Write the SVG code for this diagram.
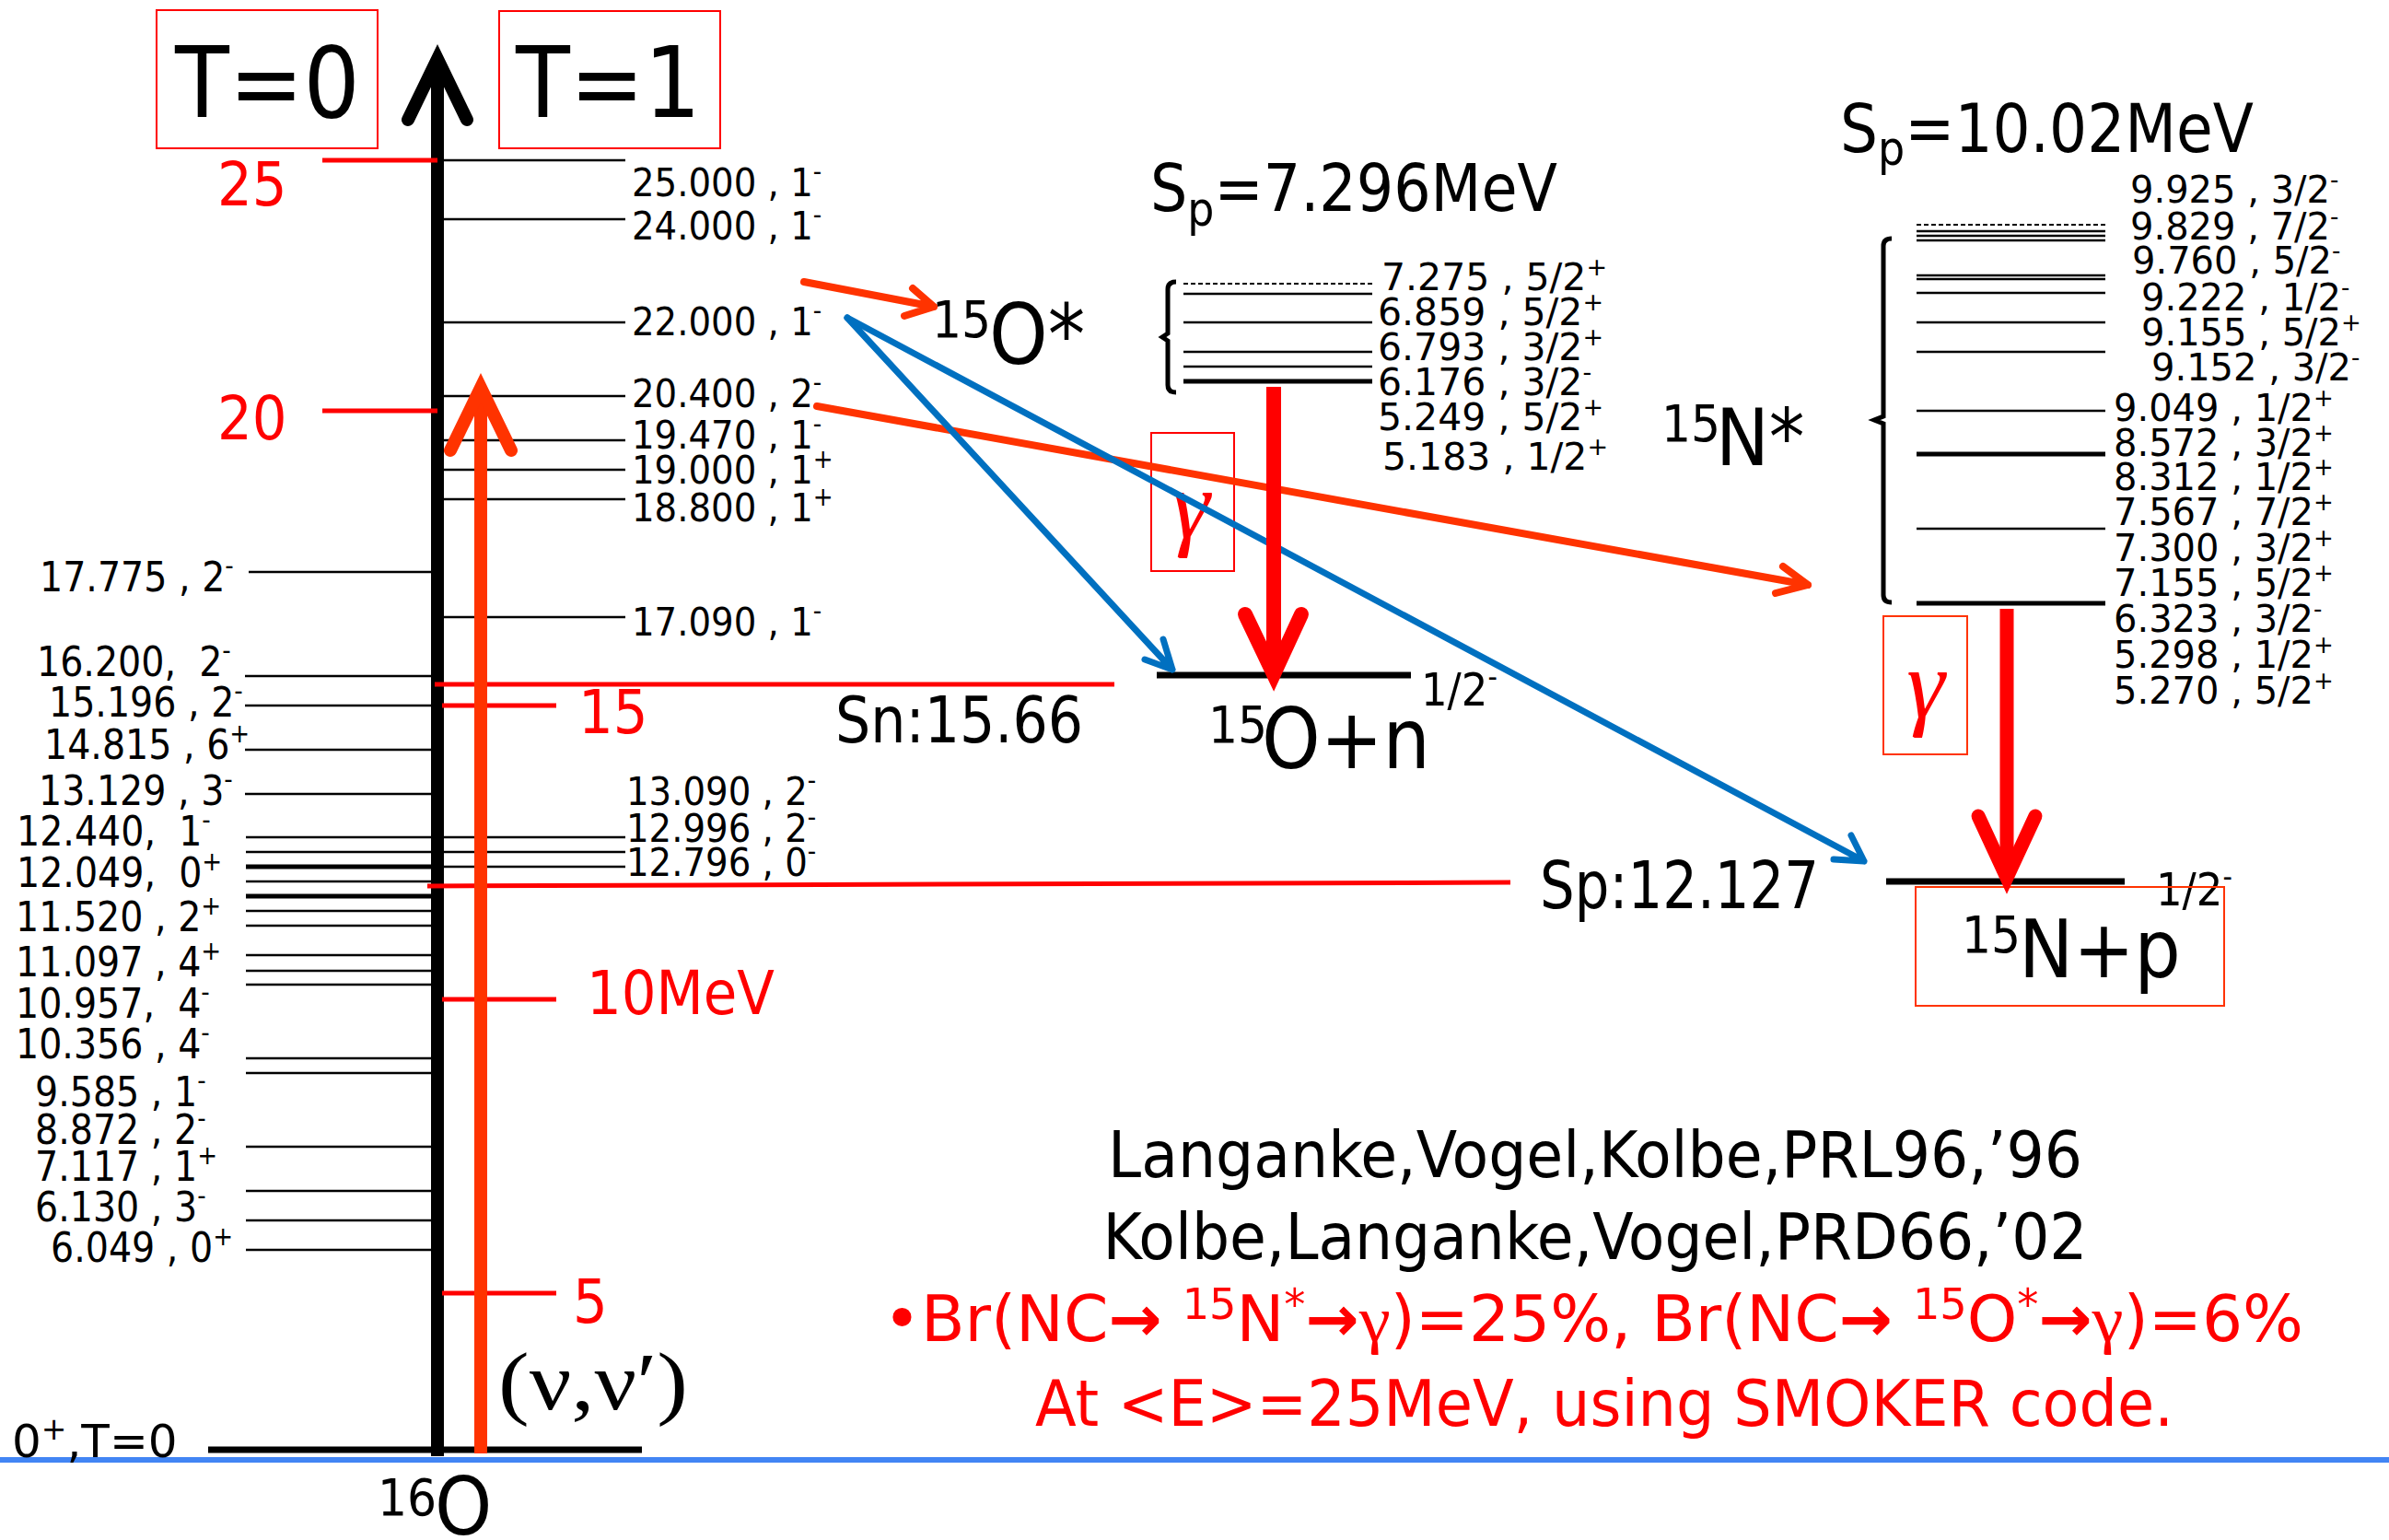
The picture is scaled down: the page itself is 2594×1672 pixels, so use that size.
<svg xmlns="http://www.w3.org/2000/svg" width="2594" height="1672" viewBox="0 0 2594 1672">
<style>
text{font-family:"DejaVu Sans Condensed","DejaVu Sans",sans-serif;font-stretch:condensed;white-space:pre;fill:#000}
.lv{font-size:44px}
.lr{font-size:43px}
.o{font-size:41px;font-family:"DejaVu Sans",sans-serif;font-stretch:normal}
.n{font-size:40px;font-family:"DejaVu Sans",sans-serif;font-stretch:normal}
.red{fill:#FF0000}
.big{font-size:66px}
.lvl{stroke:#000;stroke-width:2.5;fill:none}
.thk{stroke:#000;stroke-width:5;fill:none}
.gnd{stroke:#000;stroke-width:7;fill:none}
.tick{stroke:#FF0000;stroke-width:5;fill:none}
.box{fill:none;stroke:#FF0000;stroke-width:2}
.box2{fill:none;stroke:#FF3300;stroke-width:2}
.serif{font-family:"Liberation Serif","DejaVu Serif",serif;font-stretch:normal}
.blue{stroke:#0070C0;stroke-width:7;fill:none;stroke-linecap:round;stroke-linejoin:round}
.orng{stroke:#FF3300;stroke-width:8;fill:none;stroke-linecap:round;stroke-linejoin:round}
</style>
<rect x="0" y="0" width="2594" height="1672" fill="#fff"/>

<g id="headers">
  <rect class="box" x="170" y="11" width="240" height="150"/>
  <text x="190" y="127" font-size="107">T=0</text>
  <rect class="box" x="542" y="12" width="240" height="149"/>
  <text x="560" y="127" font-size="107">T=1</text>
</g>

<g id="axis">
  <path d="M475,1581 V66" stroke="#000" stroke-width="14" fill="none"/>
  <path d="M443,130 L475,64 L507,130" stroke="#000" stroke-width="14" fill="none" stroke-linecap="round" stroke-linejoin="miter"/>
  <line class="gnd" x1="226" y1="1574" x2="697" y2="1574"/>
  <line x1="0" y1="1585" x2="2594" y2="1585" stroke="#4285F4" stroke-width="6"/>
  <text x="13" y="1582" font-size="50" style="font-family:'DejaVu Sans',sans-serif;font-stretch:normal">0<tspan font-size="33" dy="-19">+</tspan><tspan dy="19">,T=0</tspan></text>
  <text x="410" y="1645" font-size="56">16</text>
  <text x="472" y="1666" font-size="88">O</text>
</g>

<g id="scale">
  <line class="tick" x1="350" y1="174" x2="475" y2="174"/>
  <text class="big red" x="236" y="223">25</text>
  <line class="tick" x1="350" y1="446" x2="475" y2="446"/>
  <text class="big red" x="236" y="477">20</text>
  <line class="tick" x1="480" y1="766" x2="604" y2="766"/>
  <text class="big red" x="628" y="796">15</text>
  <line class="tick" x1="480" y1="1085" x2="604" y2="1085"/>
  <text class="big red" x="637" y="1101">10MeV</text>
  <line class="tick" x1="480" y1="1404" x2="604" y2="1404"/>
  <text class="big red" x="622" y="1436">5</text>
  <line class="tick" x1="472" y1="743" x2="1210" y2="743"/>
  <line class="tick" x1="464" y1="962" x2="1640" y2="958"/>
</g>

<g id="t1-levels">
  <line class="lvl" x1="482" y1="174" x2="679" y2="174"/>
  <line class="lvl" x1="482" y1="238" x2="679" y2="238"/>
  <line class="lvl" x1="482" y1="350" x2="679" y2="350"/>
  <line class="lvl" x1="482" y1="430" x2="679" y2="430"/>
  <line class="lvl" x1="482" y1="478" x2="679" y2="478"/>
  <line class="lvl" x1="482" y1="510" x2="679" y2="510"/>
  <line class="lvl" x1="482" y1="542" x2="679" y2="542"/>
  <line class="lvl" x1="482" y1="670" x2="679" y2="670"/>
  <line class="lvl" x1="482" y1="909" x2="679" y2="909"/>
  <line class="lvl" x1="482" y1="925" x2="679" y2="925"/>
  <line class="lvl" x1="482" y1="941" x2="679" y2="941"/>
  <text class="lr" x="686" y="213">25.000 , 1<tspan font-size="29" dy="-17">-</tspan></text>
  <text class="lr" x="686" y="260">24.000 , 1<tspan font-size="29" dy="-17">-</tspan></text>
  <text class="lr" x="686" y="364">22.000 , 1<tspan font-size="29" dy="-17">-</tspan></text>
  <text class="lr" x="686" y="442">20.400 , 2<tspan font-size="29" dy="-17">-</tspan></text>
  <text class="lr" x="686" y="487">19.470 , 1<tspan font-size="29" dy="-17">-</tspan></text>
  <text class="lr" x="686" y="525">19.000 , 1<tspan font-size="29" dy="-17">+</tspan></text>
  <text class="lr" x="686" y="566">18.800 , 1<tspan font-size="29" dy="-17">+</tspan></text>
  <text class="lr" x="686" y="690">17.090 , 1<tspan font-size="29" dy="-17">-</tspan></text>
  <text class="lr" x="680" y="874">13.090 , 2<tspan font-size="29" dy="-17">-</tspan></text>
  <text class="lr" x="680" y="914">12.996 , 2<tspan font-size="29" dy="-17">-</tspan></text>
  <text class="lr" x="680" y="951">12.796 , 0<tspan font-size="29" dy="-17">-</tspan></text>
</g>

<g id="t0-levels">
  <line class="lvl" x1="270" y1="621" x2="468" y2="621"/>
  <line class="lvl" x1="266" y1="734" x2="468" y2="734"/>
  <line class="lvl" x1="266" y1="766" x2="468" y2="766"/>
  <line class="lvl" x1="266" y1="814" x2="468" y2="814"/>
  <line class="lvl" x1="266" y1="862" x2="468" y2="862"/>
  <line class="lvl" x1="267" y1="909" x2="468" y2="909"/>
  <line class="lvl" x1="267" y1="925" x2="468" y2="925"/>
  <line class="thk" x1="267" y1="941" x2="468" y2="941"/>
  <line class="lvl" x1="267" y1="957" x2="468" y2="957"/>
  <line class="thk" x1="267" y1="973" x2="468" y2="973"/>
  <line class="lvl" x1="267" y1="989" x2="468" y2="989"/>
  <line class="lvl" x1="267" y1="1005" x2="468" y2="1005"/>
  <line class="lvl" x1="267" y1="1037" x2="468" y2="1037"/>
  <line class="lvl" x1="267" y1="1054" x2="468" y2="1054"/>
  <line class="lvl" x1="267" y1="1069" x2="468" y2="1069"/>
  <line class="lvl" x1="267" y1="1149" x2="468" y2="1149"/>
  <line class="lvl" x1="267" y1="1165" x2="468" y2="1165"/>
  <line class="lvl" x1="267" y1="1245" x2="468" y2="1245"/>
  <line class="lvl" x1="267" y1="1293" x2="468" y2="1293"/>
  <line class="lvl" x1="267" y1="1325" x2="468" y2="1325"/>
  <line class="lvl" x1="267" y1="1357" x2="468" y2="1357"/>
  <text class="lv" x="43" y="642">17.775 , 2<tspan font-size="29" dy="-18">-</tspan></text>
  <text class="lv" x="40" y="734">16.200,  2<tspan font-size="29" dy="-18">-</tspan></text>
  <text class="lv" x="53" y="778">15.196 , 2<tspan font-size="29" dy="-18">-</tspan></text>
  <text class="lv" x="48" y="824">14.815 , 6<tspan font-size="29" dy="-18">+</tspan></text>
  <text class="lv" x="42" y="874">13.129 , 3<tspan font-size="29" dy="-18">-</tspan></text>
  <text class="lv" x="18" y="918">12.440,  1<tspan font-size="29" dy="-18">-</tspan></text>
  <text class="lv" x="18" y="963">12.049,  0<tspan font-size="29" dy="-18">+</tspan></text>
  <text class="lv" x="17" y="1011">11.520 , 2<tspan font-size="29" dy="-18">+</tspan></text>
  <text class="lv" x="17" y="1060">11.097 , 4<tspan font-size="29" dy="-18">+</tspan></text>
  <text class="lv" x="17" y="1105">10.957,  4<tspan font-size="29" dy="-18">-</tspan></text>
  <text class="lv" x="17" y="1149">10.356 , 4<tspan font-size="29" dy="-18">-</tspan></text>
  <text class="lv" x="38" y="1201">9.585 , 1<tspan font-size="29" dy="-18">-</tspan></text>
  <text class="lv" x="38" y="1242">8.872 , 2<tspan font-size="29" dy="-18">-</tspan></text>
  <text class="lv" x="38" y="1282">7.117 , 1<tspan font-size="29" dy="-18">+</tspan></text>
  <text class="lv" x="38" y="1326">6.130 , 3<tspan font-size="29" dy="-18">-</tspan></text>
  <text class="lv" x="55" y="1370">6.049 , 0<tspan font-size="29" dy="-18">+</tspan></text>
</g>

<g id="nu-arrow">
  <path d="M522,1578 V423" stroke="#FF3300" stroke-width="14" fill="none"/>
  <path d="M489,489 L522,421 L555,489" stroke="#FF3300" stroke-width="14" fill="none" stroke-linecap="round"/>
  <text class="serif" x="541" y="1530" font-size="88" textLength="206" lengthAdjust="spacingAndGlyphs">(ν,ν′)</text>
</g>

<g id="o15-star">
  <text x="1012" y="366" font-size="56">15</text>
  <text x="1074" y="395" font-size="90">O*</text>
  <text x="1249" y="229" font-size="72" textLength="442" lengthAdjust="spacingAndGlyphs">S<tspan font-size="52" dy="16">p</tspan><tspan dy="-16">=7.296MeV</tspan></text>
  <path d="M1277,306 Q1268,306 1268,314 V362 L1262,366 L1268,370 V418 Q1268,426 1277,426" stroke="#000" stroke-width="5" fill="none"/>
  <line x1="1285" y1="308" x2="1490" y2="308" stroke="#000" stroke-width="2" stroke-dasharray="5,3"/>
  <line class="lvl" x1="1285" y1="319" x2="1490" y2="319" stroke-width="3.5"/>
  <line class="lvl" x1="1285" y1="350" x2="1490" y2="350"/>
  <line class="lvl" x1="1285" y1="382" x2="1490" y2="382" stroke-width="3.5"/>
  <line class="lvl" x1="1285" y1="398" x2="1490" y2="398" stroke-width="3.5"/>
  <line class="thk" x1="1285" y1="414" x2="1490" y2="414"/>
  <text class="o" x="1500" y="315">7.275 , 5/2<tspan font-size="27" dy="-16">+</tspan></text>
  <text class="o" x="1496" y="353">6.859 , 5/2<tspan font-size="27" dy="-16">+</tspan></text>
  <text class="o" x="1496" y="391">6.793 , 3/2<tspan font-size="27" dy="-16">+</tspan></text>
  <text class="o" x="1496" y="429">6.176 , 3/2<tspan font-size="27" dy="-16">-</tspan></text>
  <text class="o" x="1496" y="467">5.249 , 5/2<tspan font-size="27" dy="-16">+</tspan></text>
  <text class="o" x="1501" y="510">5.183 , 1/2<tspan font-size="27" dy="-16">+</tspan></text>
  <rect class="box" x="1250" y="470" width="90" height="150"/>
  <text class="serif red" x="1293" y="583" font-size="105" font-style="italic" text-anchor="middle">γ</text>
</g>

<g id="o15-n">
  <line class="gnd" x1="1256" y1="733" x2="1532" y2="733"/>
  <text x="1543" y="766" font-size="50">1/2<tspan font-size="32" dy="-20">-</tspan></text>
  <text x="907" y="806" font-size="70" textLength="269" lengthAdjust="spacingAndGlyphs">Sn:15.66</text>
  <text x="1312" y="806" font-size="56">15</text>
  <text x="1370" y="834" font-size="90">O+n</text>
</g>

<g id="n15-star">
  <text x="1998" y="165" font-size="73" textLength="449" lengthAdjust="spacingAndGlyphs">S<tspan font-size="52" dy="14">p</tspan><tspan dy="-14">=10.02MeV</tspan></text>
  <text x="1804" y="479" font-size="56">15</text>
  <text x="1863" y="505" font-size="86">N*</text>
  <path d="M2054,259 Q2045,259 2045,267 V452 L2035,456 L2045,460 V646 Q2045,654 2054,654" stroke="#000" stroke-width="5" fill="none"/>
  <line x1="2081" y1="244" x2="2286" y2="244" stroke="#000" stroke-width="2" stroke-dasharray="5,3"/>
  <line class="lvl" x1="2081" y1="251" x2="2286" y2="251" stroke-width="3"/>
  <line class="lvl" x1="2081" y1="256" x2="2286" y2="256" stroke-width="3"/>
  <line class="lvl" x1="2081" y1="261" x2="2286" y2="261" stroke-width="3"/>
  <line class="lvl" x1="2081" y1="299" x2="2286" y2="299" stroke-width="3"/>
  <line class="lvl" x1="2081" y1="303" x2="2286" y2="303" stroke-width="3"/>
  <line class="lvl" x1="2081" y1="318" x2="2286" y2="318" stroke-width="3"/>
  <line class="lvl" x1="2081" y1="350" x2="2286" y2="350"/>
  <line class="lvl" x1="2081" y1="382" x2="2286" y2="382"/>
  <line class="lvl" x1="2081" y1="446" x2="2286" y2="446"/>
  <line class="thk" x1="2081" y1="493" x2="2286" y2="493"/>
  <line class="lvl" x1="2081" y1="574" x2="2286" y2="574"/>
  <line class="thk" x1="2081" y1="655" x2="2286" y2="655"/>
  <text class="n" x="2313" y="220">9.925 , 3/2<tspan font-size="26" dy="-16">-</tspan></text>
  <text class="n" x="2313" y="260">9.829 , 7/2<tspan font-size="26" dy="-16">-</tspan></text>
  <text class="n" x="2315" y="297">9.760 , 5/2<tspan font-size="26" dy="-16">-</tspan></text>
  <text class="n" x="2325" y="337">9.222 , 1/2<tspan font-size="26" dy="-16">-</tspan></text>
  <text class="n" x="2325" y="375">9.155 , 5/2<tspan font-size="26" dy="-16">+</tspan></text>
  <text class="n" x="2336" y="413">9.152 , 3/2<tspan font-size="26" dy="-16">-</tspan></text>
  <text class="n" x="2295" y="457">9.049 , 1/2<tspan font-size="26" dy="-16">+</tspan></text>
  <text class="n" x="2295" y="495">8.572 , 3/2<tspan font-size="26" dy="-16">+</tspan></text>
  <text class="n" x="2295" y="532">8.312 , 1/2<tspan font-size="26" dy="-16">+</tspan></text>
  <text class="n" x="2295" y="570">7.567 , 7/2<tspan font-size="26" dy="-16">+</tspan></text>
  <text class="n" x="2295" y="609">7.300 , 3/2<tspan font-size="26" dy="-16">+</tspan></text>
  <text class="n" x="2295" y="647">7.155 , 5/2<tspan font-size="26" dy="-16">+</tspan></text>
  <text class="n" x="2295" y="686">6.323 , 3/2<tspan font-size="26" dy="-16">-</tspan></text>
  <text class="n" x="2295" y="725">5.298 , 1/2<tspan font-size="26" dy="-16">+</tspan></text>
  <text class="n" x="2295" y="764">5.270 , 5/2<tspan font-size="26" dy="-16">+</tspan></text>
  <rect class="box2" x="2045" y="669" width="91" height="150"/>
  <text class="serif red" x="2091" y="778" font-size="105" font-style="italic" text-anchor="middle">γ</text>
</g>

<g id="n15-p">
  <line class="gnd" x1="2048" y1="957" x2="2307" y2="957"/>
  <text x="2341" y="983" font-size="50">1/2<tspan font-size="32" dy="-20">-</tspan></text>
  <text x="1672" y="986" font-size="72" textLength="303" lengthAdjust="spacingAndGlyphs">Sp:12.127</text>
  <rect class="box2" x="2080" y="963" width="335" height="129"/>
  <text x="2130" y="1034" font-size="56">15</text>
  <text x="2192" y="1061" font-size="88">N+p</text>
</g>

<g id="references">
  <text x="1732" y="1278" font-size="69" text-anchor="middle" textLength="1058" lengthAdjust="spacingAndGlyphs">Langanke,Vogel,Kolbe,PRL96,’96</text>
  <text x="1732" y="1367" font-size="69" text-anchor="middle" textLength="1069" lengthAdjust="spacingAndGlyphs">Kolbe,Langanke,Vogel,PRD66,’02</text>
  <text class="red" x="959" y="1456" font-size="69" textLength="1542" lengthAdjust="spacingAndGlyphs">•Br(NC<tspan font-weight="bold">→</tspan> <tspan font-size="46" dy="-24">15</tspan><tspan dy="24">N</tspan><tspan font-size="46" dy="-24">*</tspan><tspan dy="24" font-weight="bold">→</tspan><tspan class="serif">γ</tspan>)=25%, Br(NC<tspan font-weight="bold">→</tspan> <tspan font-size="46" dy="-24">15</tspan><tspan dy="24">O</tspan><tspan font-size="46" dy="-24">*</tspan><tspan dy="24" font-weight="bold">→</tspan><tspan class="serif">γ</tspan>)=6%</text>
  <text class="red" x="1124" y="1548" font-size="69" textLength="1236" lengthAdjust="spacingAndGlyphs">At &lt;E&gt;=25MeV, using SMOKER code.</text>
</g>

<g id="connectors">
  <path class="orng" d="M873,306 L1014,333 M982,343 L1014,333 L991,313"/>
  <path class="orng" d="M887,441 L1963,635 M1928,644 L1963,635 L1936,615"/>
  <path class="blue" d="M920,345 L1273,727 M1243,716 L1273,727 L1263,694"/>
  <path class="blue" d="M920,345 L2024,935 M1991,933 L2024,935 L2010,907"/>
  <path d="M1383,420 V728" stroke="#FF0000" stroke-width="16" fill="none"/>
  <path d="M1352,667 L1383,732 L1413,667" stroke="#FF0000" stroke-width="16" fill="none" stroke-linecap="round"/>
  <path d="M2179,661 V949" stroke="#FF0000" stroke-width="15" fill="none"/>
  <path d="M2148,886 L2179,953 L2210,886" stroke="#FF0000" stroke-width="15" fill="none" stroke-linecap="round"/>
</g>
</svg>
